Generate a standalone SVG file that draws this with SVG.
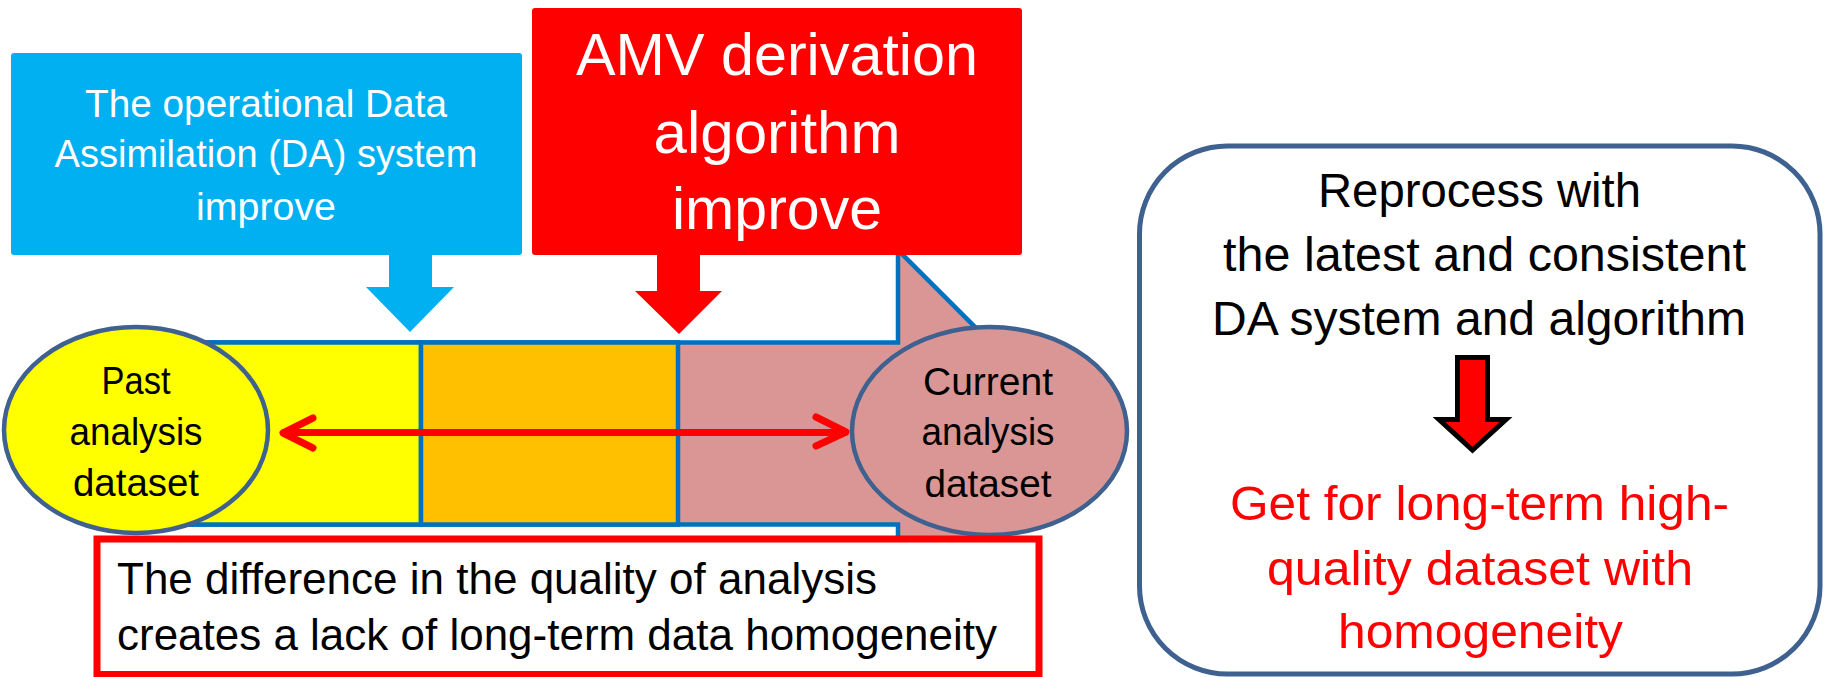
<svg xmlns="http://www.w3.org/2000/svg" width="1831" height="677" viewBox="0 0 1831 677">
<defs>
<style>
text{font-family:"Liberation Sans",Arial,sans-serif}
.w{fill:#fff}
.k{fill:#000}
.r{fill:#f00}
.mid{text-anchor:middle}
.ell{stroke:#3E6190;stroke-width:4.5}
.bar{stroke:#0070C0;stroke-width:4.5}
.dbl{fill:none;stroke:#f00;stroke-width:7;stroke-linecap:round;stroke-linejoin:round}
</style>
</defs>
<rect width="1831" height="677" fill="#fff"/>

<g id="timeline-bar">
<path class="bar" fill="#D99694" d="M140,342.5 H898 V250 L1081.5,433.5 L898,617 V524.5 H140 Z"/>
<rect class="bar" x="140" y="342.5" width="281" height="182" fill="#FFFF00"/>
<rect class="bar" x="421" y="342.5" width="257" height="182" fill="#FFC000"/>
</g>

<g id="da-system-box">
<rect x="11" y="53" width="511" height="202" rx="3" fill="#00B0F0"/>
<text class="w mid" x="266" y="117" font-size="38.5" textLength="362" lengthAdjust="spacingAndGlyphs">The operational Data</text>
<text class="w mid" x="266" y="167" font-size="38.5" textLength="423" lengthAdjust="spacingAndGlyphs">Assimilation (DA) system</text>
<text class="w mid" x="266" y="220" font-size="38.5" textLength="140" lengthAdjust="spacingAndGlyphs">improve</text>
</g>

<g id="amv-box">
<rect x="532" y="8" width="490" height="247" rx="3" fill="#FF0000"/>
<text class="w mid" x="777" y="75" font-size="59" textLength="402" lengthAdjust="spacingAndGlyphs">AMV derivation</text>
<text class="w mid" x="777" y="153" font-size="59" textLength="247" lengthAdjust="spacingAndGlyphs">algorithm</text>
<text class="w mid" x="777" y="229" font-size="59" textLength="210" lengthAdjust="spacingAndGlyphs">improve</text>
</g>

<g id="past-dataset">
<ellipse class="ell" cx="136" cy="430" rx="132" ry="103" fill="#FFFF00"/>
<text class="k mid" x="136" y="394" font-size="38" textLength="69" lengthAdjust="spacingAndGlyphs">Past</text>
<text class="k mid" x="136" y="445" font-size="38" textLength="133" lengthAdjust="spacingAndGlyphs">analysis</text>
<text class="k mid" x="136" y="496" font-size="38" textLength="126" lengthAdjust="spacingAndGlyphs">dataset</text>
</g>

<g id="current-dataset">
<ellipse class="ell" cx="989.5" cy="431" rx="137.5" ry="104" fill="#D99694"/>
<text class="k mid" x="988" y="395" font-size="38" textLength="130" lengthAdjust="spacingAndGlyphs">Current</text>
<text class="k mid" x="988" y="445" font-size="38" textLength="133" lengthAdjust="spacingAndGlyphs">analysis</text>
<text class="k mid" x="988" y="497" font-size="38" textLength="127" lengthAdjust="spacingAndGlyphs">dataset</text>
</g>

<g id="difference-box">
<rect x="97" y="539" width="942" height="135.5" fill="#fff" stroke="#f00" stroke-width="7"/>
<text class="k" x="117" y="594" font-size="44" textLength="760" lengthAdjust="spacingAndGlyphs">The difference in the quality of analysis</text>
<text class="k" x="117" y="650" font-size="44" textLength="880" lengthAdjust="spacingAndGlyphs">creates a lack of long-term data homogeneity</text>
</g>

<g id="reprocess-box">
<rect x="1139.5" y="146" width="680.5" height="528" rx="88" fill="#fff" stroke="#3E6190" stroke-width="5"/>
<text class="k mid" x="1479.5" y="207" font-size="47.5" textLength="323" lengthAdjust="spacingAndGlyphs">Reprocess with</text>
<text class="k mid" x="1484.5" y="271" font-size="47.5" textLength="523" lengthAdjust="spacingAndGlyphs">the latest and consistent</text>
<text class="k mid" x="1479" y="335" font-size="47.5" textLength="534" lengthAdjust="spacingAndGlyphs">DA system and algorithm</text>
<text class="r mid" x="1479.5" y="520" font-size="47.5" textLength="499" lengthAdjust="spacingAndGlyphs">Get for long-term high-</text>
<text class="r mid" x="1480" y="585" font-size="47.5" textLength="426" lengthAdjust="spacingAndGlyphs">quality dataset with</text>
<text class="r mid" x="1480.5" y="648" font-size="47.5" textLength="285" lengthAdjust="spacingAndGlyphs">homogeneity</text>
</g>

<g id="connectors">
<polygon fill="#00B0F0" points="389,250 432,250 432,287 454,287 410,332 366,287 389,287"/>
<polygon fill="#FF0000" points="657,250 700,250 700,291 722,291 679,334 635,291 657,291"/>
<line class="dbl" x1="284" y1="432.5" x2="845" y2="432.5"/>
<polyline class="dbl" points="313,418 283,433 313,448"/>
<polyline class="dbl" points="816,417 846,432 816,446"/>
<polygon fill="#FF0000" stroke="#000" stroke-width="5" stroke-linejoin="miter" points="1457.5,357.5 1487.5,357.5 1487.5,419.5 1506,419.5 1472.5,450 1439,419.5 1457.5,419.5"/>
</g>
</svg>
